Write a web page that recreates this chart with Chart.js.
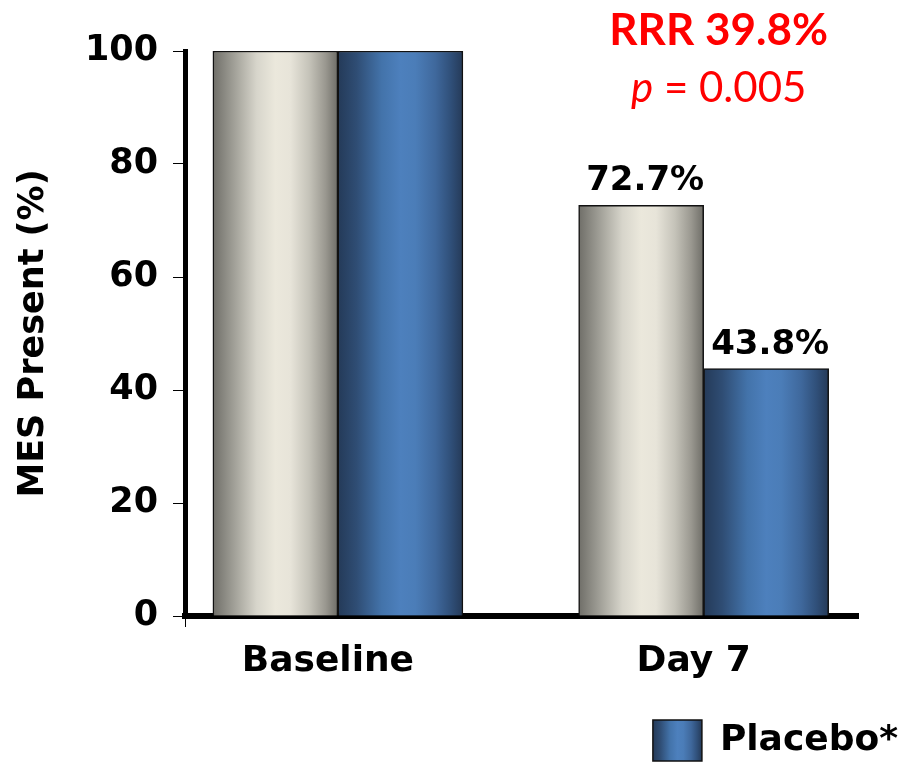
<!DOCTYPE html>
<html>
<head>
<meta charset="utf-8">
<script src="https://cdn.jsdelivr.net/npm/chart.js"></script>
<style>
  html, body { margin: 0; padding: 0; background: #fff; }
  #wrap { width: 908px; height: 775px; }
</style>
</head>
<body>
<div id="wrap"><canvas id="chart1"></canvas></div>
<script>
const categories = ['Baseline', 'Day 7'];
const activeValues = [100, 72.7];
const placeboValues = [100, 43.8];
const seriesNames = ['Active', 'Placebo*'];
const yTicks = [0, 20, 40, 60, 80, 100];
const labelledCategory = 1;            // only Day 7 bars carry a value label
const rrrLine = 'RRR 39.8%';
const pValue = '0.005';

const BAR_W = 125;

// cylinder-like shading across each bar
const grayStops = [[0, '#6f6e68'], [0.15, '#9b9a92'], [0.35, '#d7d5cb'], [0.5, '#ebe8dc'],
  [0.62, '#e7e4d9'], [0.77, '#c5c3b9'], [0.9, '#9a9890'], [1, '#6e6d67']];
const blueStops = [[0, '#243a58'], [0.15, '#2f4d74'], [0.35, '#4373aa'], [0.5, '#4d80bd'],
  [0.62, '#4b7db8'], [0.78, '#3f689c'], [0.9, '#30507a'], [1, '#253a58']];

function fillGradient(ctx, left, width, stops) {
  if (!isFinite(left) || !isFinite(width)) return stops[3][1];
  const g = ctx.createLinearGradient(left, 0, left + width, 0);
  stops.forEach(([o, c]) => g.addColorStop(o, c));
  return g;
}

function shade(stops) {
  return (c) => {
    if (c.type !== 'data' || !c.raw) return stops[3][1];
    const x = c.chart.scales.x.getPixelForValue(c.raw.x);
    const left = x + (c.datasetIndex - 1) * BAR_W;
    return fillGradient(c.chart.ctx, left, BAR_W, stops);
  };
}

Chart.defaults.font.family = "'DejaVu Sans', sans-serif";
Chart.defaults.font.weight = 'bold';
Chart.defaults.color = '#000';

// value labels above the Day 7 bars
const valueLabels = {
  id: 'valueLabels',
  afterDatasetsDraw(chart) {
    const ctx = chart.ctx;
    ctx.save();
    ctx.font = "bold 34px 'DejaVu Sans'";
    ctx.fillStyle = '#000';
    ctx.textAlign = 'center';
    ctx.textBaseline = 'alphabetic';
    chart.data.datasets.forEach((ds, di) => {
      const bar = chart.getDatasetMeta(di).data[labelledCategory];
      const v = ds.data[labelledCategory].y;
      ctx.fillText(v.toFixed(1) + '%', bar.x + 4, bar.y - 15);
    });
    ctx.restore();
  }
};

// red RRR / p-value note over Day 7
const rrrNote = {
  id: 'rrrNote',
  afterDraw(chart) {
    const ctx = chart.ctx;
    const cx = chart.scales.x.getPixelForValue(labelledCategory) + 15;
    ctx.save();
    ctx.fillStyle = '#ff0000';
    ctx.textBaseline = 'alphabetic';
    ctx.textAlign = 'center';
    ctx.font = "bold 44px Lato";
    ctx.fillText(rrrLine, cx, 45);
    ctx.textAlign = 'left';
    const pFont = "italic 42px Lato";
    const restFont = "42px Lato";
    const rest = ' = ' + pValue;
    ctx.font = pFont;
    const wp = ctx.measureText('p').width;
    ctx.font = restFont;
    const wr = ctx.measureText(rest).width;
    let x = cx - (wp + wr) / 2;
    ctx.font = pFont;
    ctx.fillText('p', x, 102);
    ctx.font = restFont;
    ctx.fillText(rest, x + wp, 102);
    ctx.restore();
  }
};

// legend swatch gets the same shading as the bars
const legendShade = {
  id: 'legendShade',
  beforeDraw(chart) {
    const lg = chart.legend;
    if (!lg || !lg.legendItems || !lg.legendItems.length) return;
    const hb = lg.legendHitBoxes && lg.legendHitBoxes[0];
    if (!hb) return;
    lg.legendItems[0].fillStyle = fillGradient(chart.ctx, hb.left, lg.options.labels.boxWidth, blueStops);
  }
};

const ctx1 = document.getElementById('chart1');

new Chart(ctx1, {
  type: 'bar',
  data: {
    datasets: [{
      label: seriesNames[0],
      data: categories.map((c, i) => ({ x: i, y: activeValues[i] })),
      backgroundColor: shade(grayStops),
      borderColor: '#111',
      borderWidth: 1.5,
      barThickness: BAR_W
    }, {
      label: seriesNames[1],
      data: categories.map((c, i) => ({ x: i, y: placeboValues[i] })),
      backgroundColor: shade(blueStops),
      borderColor: '#111',
      borderWidth: 1.5,
      barThickness: BAR_W
    }]
  },
  options: {
    responsive: true,
    maintainAspectRatio: false,
    animation: false,
    layout: { padding: { left: 0, right: 0, top: 51, bottom: 4 } },
    scales: {
      x: {
        type: 'linear',
        min: -0.418,
        max: 1.422,
        offset: false,
        afterBuildTicks: (s) => { s.ticks = [s.min, 0, 1].map(value => ({ value })); },
        afterFit: (s) => { s.height = 94; },
        grid: {
          offset: false,
          drawOnChartArea: false,
          tickLength: 11,
          lineWidth: 1,
          color: (c) => c.index === 0 ? '#000' : 'rgba(0,0,0,0)'
        },
        border: { color: '#000', width: 6 },
        ticks: {
          autoSkip: false,
          maxRotation: 0,
          padding: 13,
          labelOffset: -10,
          font: { size: 36 },
          callback: (v) => categories[v] ?? ''
        }
      },
      y: {
        min: 0,
        max: 100,
        afterBuildTicks: (s) => { s.ticks = yTicks.map(value => ({ value })); },
        afterFit: (s) => { s.width = 185; },
        grid: { drawOnChartArea: false, tickLength: 12, lineWidth: 1, color: '#000' },
        border: { color: '#000', width: 5 },
        ticks: { padding: 15, font: { size: 35 } },
        title: {
          display: true,
          text: 'MES Present (%)',
          font: { size: 35 },
          padding: { top: 13, bottom: 0 }
        }
      },
      // empty spacer on the right so the legend can run past the plot
      y2: {
        position: 'right',
        afterFit: (s) => { s.width = 50; },
        grid: { display: false },
        border: { display: false },
        ticks: { display: false }
      }
    },
    plugins: {
      tooltip: { enabled: false },
      legend: {
        position: 'bottom',
        align: 'end',
        labels: {
          filter: (item) => item.datasetIndex === 1,
          boxWidth: 49,
          boxHeight: 41,
          padding: 10,
          font: { size: 36 }
        }
      }
    }
  },
  plugins: [valueLabels, rrrNote, legendShade]
});
</script>
</body>
</html>
